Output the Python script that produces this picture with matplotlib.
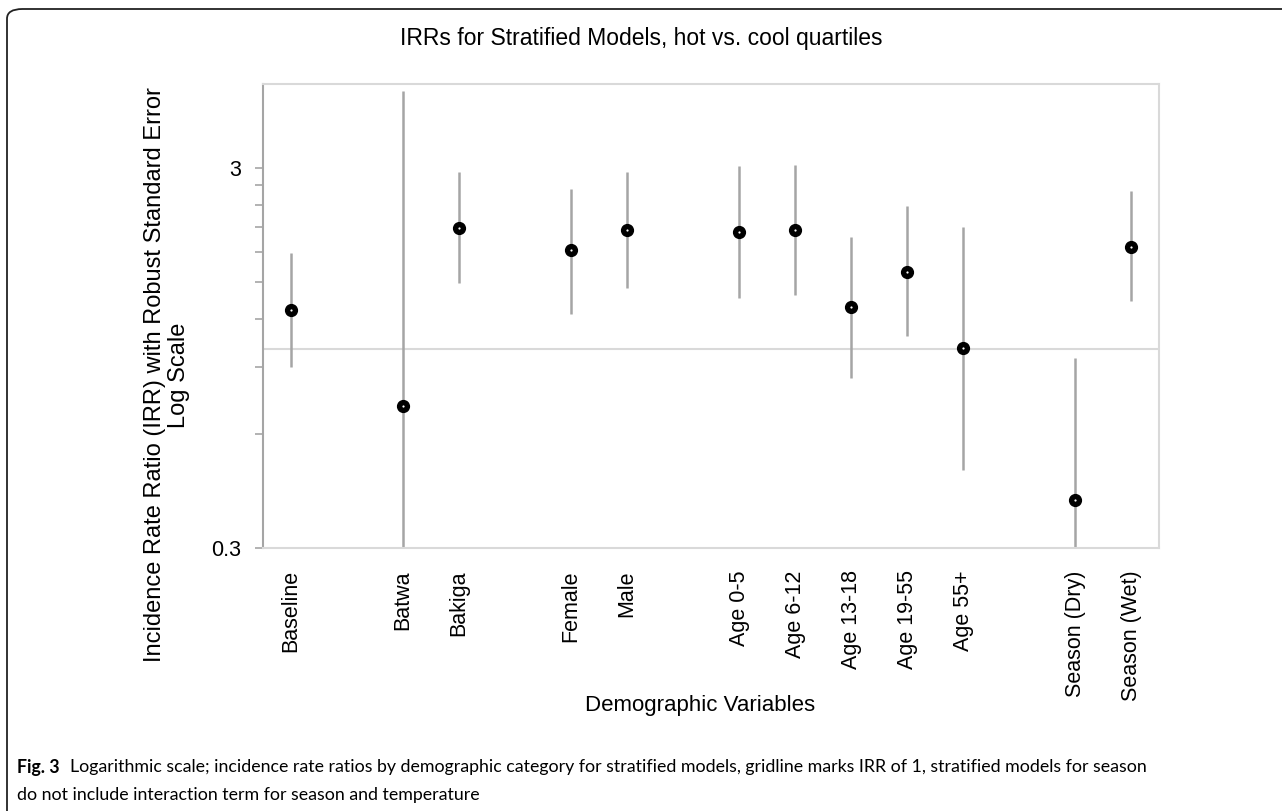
import matplotlib
matplotlib.use("Agg")
import matplotlib.pyplot as plt
from matplotlib.patches import FancyBboxPatch

# data (log-scale IRRs)
labels = ["Baseline", "", "Batwa", "Bakiga", "", "Female", "Male", "",
          "Age 0-5", "Age 6-12", "Age 13-18", "Age 19-55", "Age 55+", "",
          "Season (Dry)", "Season (Wet)"]
irr = [1.27, None, 0.71, 2.08, None, 1.82, 2.06, None,
       2.03, 2.06, 1.29, 1.60, 1.01, None, 0.40, 1.86]
upper = [1.79, None, 4.78, 2.92, None, 2.64, 2.93, None,
         3.04, 3.05, 1.97, 2.38, 2.10, None, 0.95, 2.60]
lower = [0.90, None, 0.105, 1.49, None, 1.24, 1.45, None,
         1.36, 1.39, 0.84, 1.08, 0.48, None, 0.17, 1.34]

y_major = [0.3, 3]
y_minor = [0.6, 0.9, 1.2, 1.5, 1.8, 2.1, 2.4, 2.7]

W, H = 1282, 811
plt.rcParams["font.family"] = ["Liberation Sans", "DejaVu Sans"]

fig = plt.figure(figsize=(W / 100, H / 100), dpi=100)
ax = fig.add_axes([263 / W, 1 - 548 / H, 896 / W, 464 / H])

xs = [i for i, v in enumerate(irr) if v is not None]
pts = [irr[i] for i in xs]
lo = [lower[i] for i in xs]
hi = [upper[i] for i in xs]

ax.axhline(1, color="#d9d9d9", lw=1.5, zorder=1)
ax.vlines(xs, lo, hi, color="#a5a5a5", lw=1.8, zorder=2)
ax.plot(xs, pts, "o", ms=8.5, mfc="black", mec="black", zorder=3)
ax.plot(xs, pts, "o", ms=1.6, mfc="white", mew=0, zorder=4)

ax.set_yscale("log")
ax.set_ylim(0.3, 4.98)
ax.set_xlim(-0.5, len(labels) - 0.5)
ax.set_yticks(y_major)
ax.set_yticklabels(["0.3", "3"])
ax.set_yticks(y_minor, minor=True)
ax.yaxis.set_minor_formatter(plt.NullFormatter())
ax.tick_params(axis="y", which="both", length=6, width=1.2, color="#a5a5a5",
               labelsize=15.5, pad=10)
ax.set_xticks(range(len(labels)))
ax.set_xticklabels(labels, rotation=90, fontsize=15.5)
ax.tick_params(axis="x", length=0, pad=16)

for side in ["top", "right", "bottom"]:
    ax.spines[side].set_color("#d9d9d9")
    ax.spines[side].set_linewidth(1.5)
ax.spines["left"].set_color("#a5a5a5")
ax.spines["left"].set_linewidth(1.5)

fig.text(0.5, 1 - 38 / H, "IRRs for Stratified Models, hot vs. cool quartiles",
         ha="center", va="center", fontsize=16.5)
fig.text(167 / W, 1 - 375 / H,
         "Incidence Rate Ratio (IRR) with Robust Standard Error\nLog Scale",
         rotation=90, ha="center", va="center", fontsize=17, linespacing=1.1)
fig.text(700 / W, 1 - 705 / H, "Demographic Variables", ha="center", va="center",
         fontsize=16)

# journal frame
frame = FancyBboxPatch((7 / W, -0.2), 1.2, 1.2 - 9 / H,
                       boxstyle="round,pad=0,rounding_size=0.012",
                       transform=fig.transFigure, fill=False,
                       ec="#222222", lw=1.3, clip_on=False)
fig.patches.append(frame)

# caption, fitted so the first line ends near x=1160
cap = ["Lato", "DejaVu Sans"]
cap_size = 14
fig_lbl = fig.text(17 / W, 1 - 767 / H, "Fig. 3", fontsize=cap_size,
                   fontweight="bold", family=cap, va="center")
line1 = fig.text(0, 1 - 767 / H,
                 "Logarithmic scale; incidence rate ratios by demographic category for stratified models, "
                 "gridline marks IRR of 1, stratified models for season",
                 fontsize=cap_size, family=cap, va="center")
line2 = fig.text(17 / W, 1 - 795 / H,
                 "do not include interaction term for season and temperature",
                 fontsize=cap_size, family=cap, va="center")
r = fig.canvas.get_renderer()
w_lbl = fig_lbl.get_window_extent(r).width
w_l1 = line1.get_window_extent(r).width
scale = (1160 - 17 - 10) / (w_lbl + 10 + w_l1)
new_size = cap_size * scale
for t in (fig_lbl, line1, line2):
    t.set_fontsize(new_size)
w_lbl = fig_lbl.get_window_extent(r).width
line1.set_x((17 + w_lbl + 10) / W)

fig.savefig("out.png", dpi=100)
